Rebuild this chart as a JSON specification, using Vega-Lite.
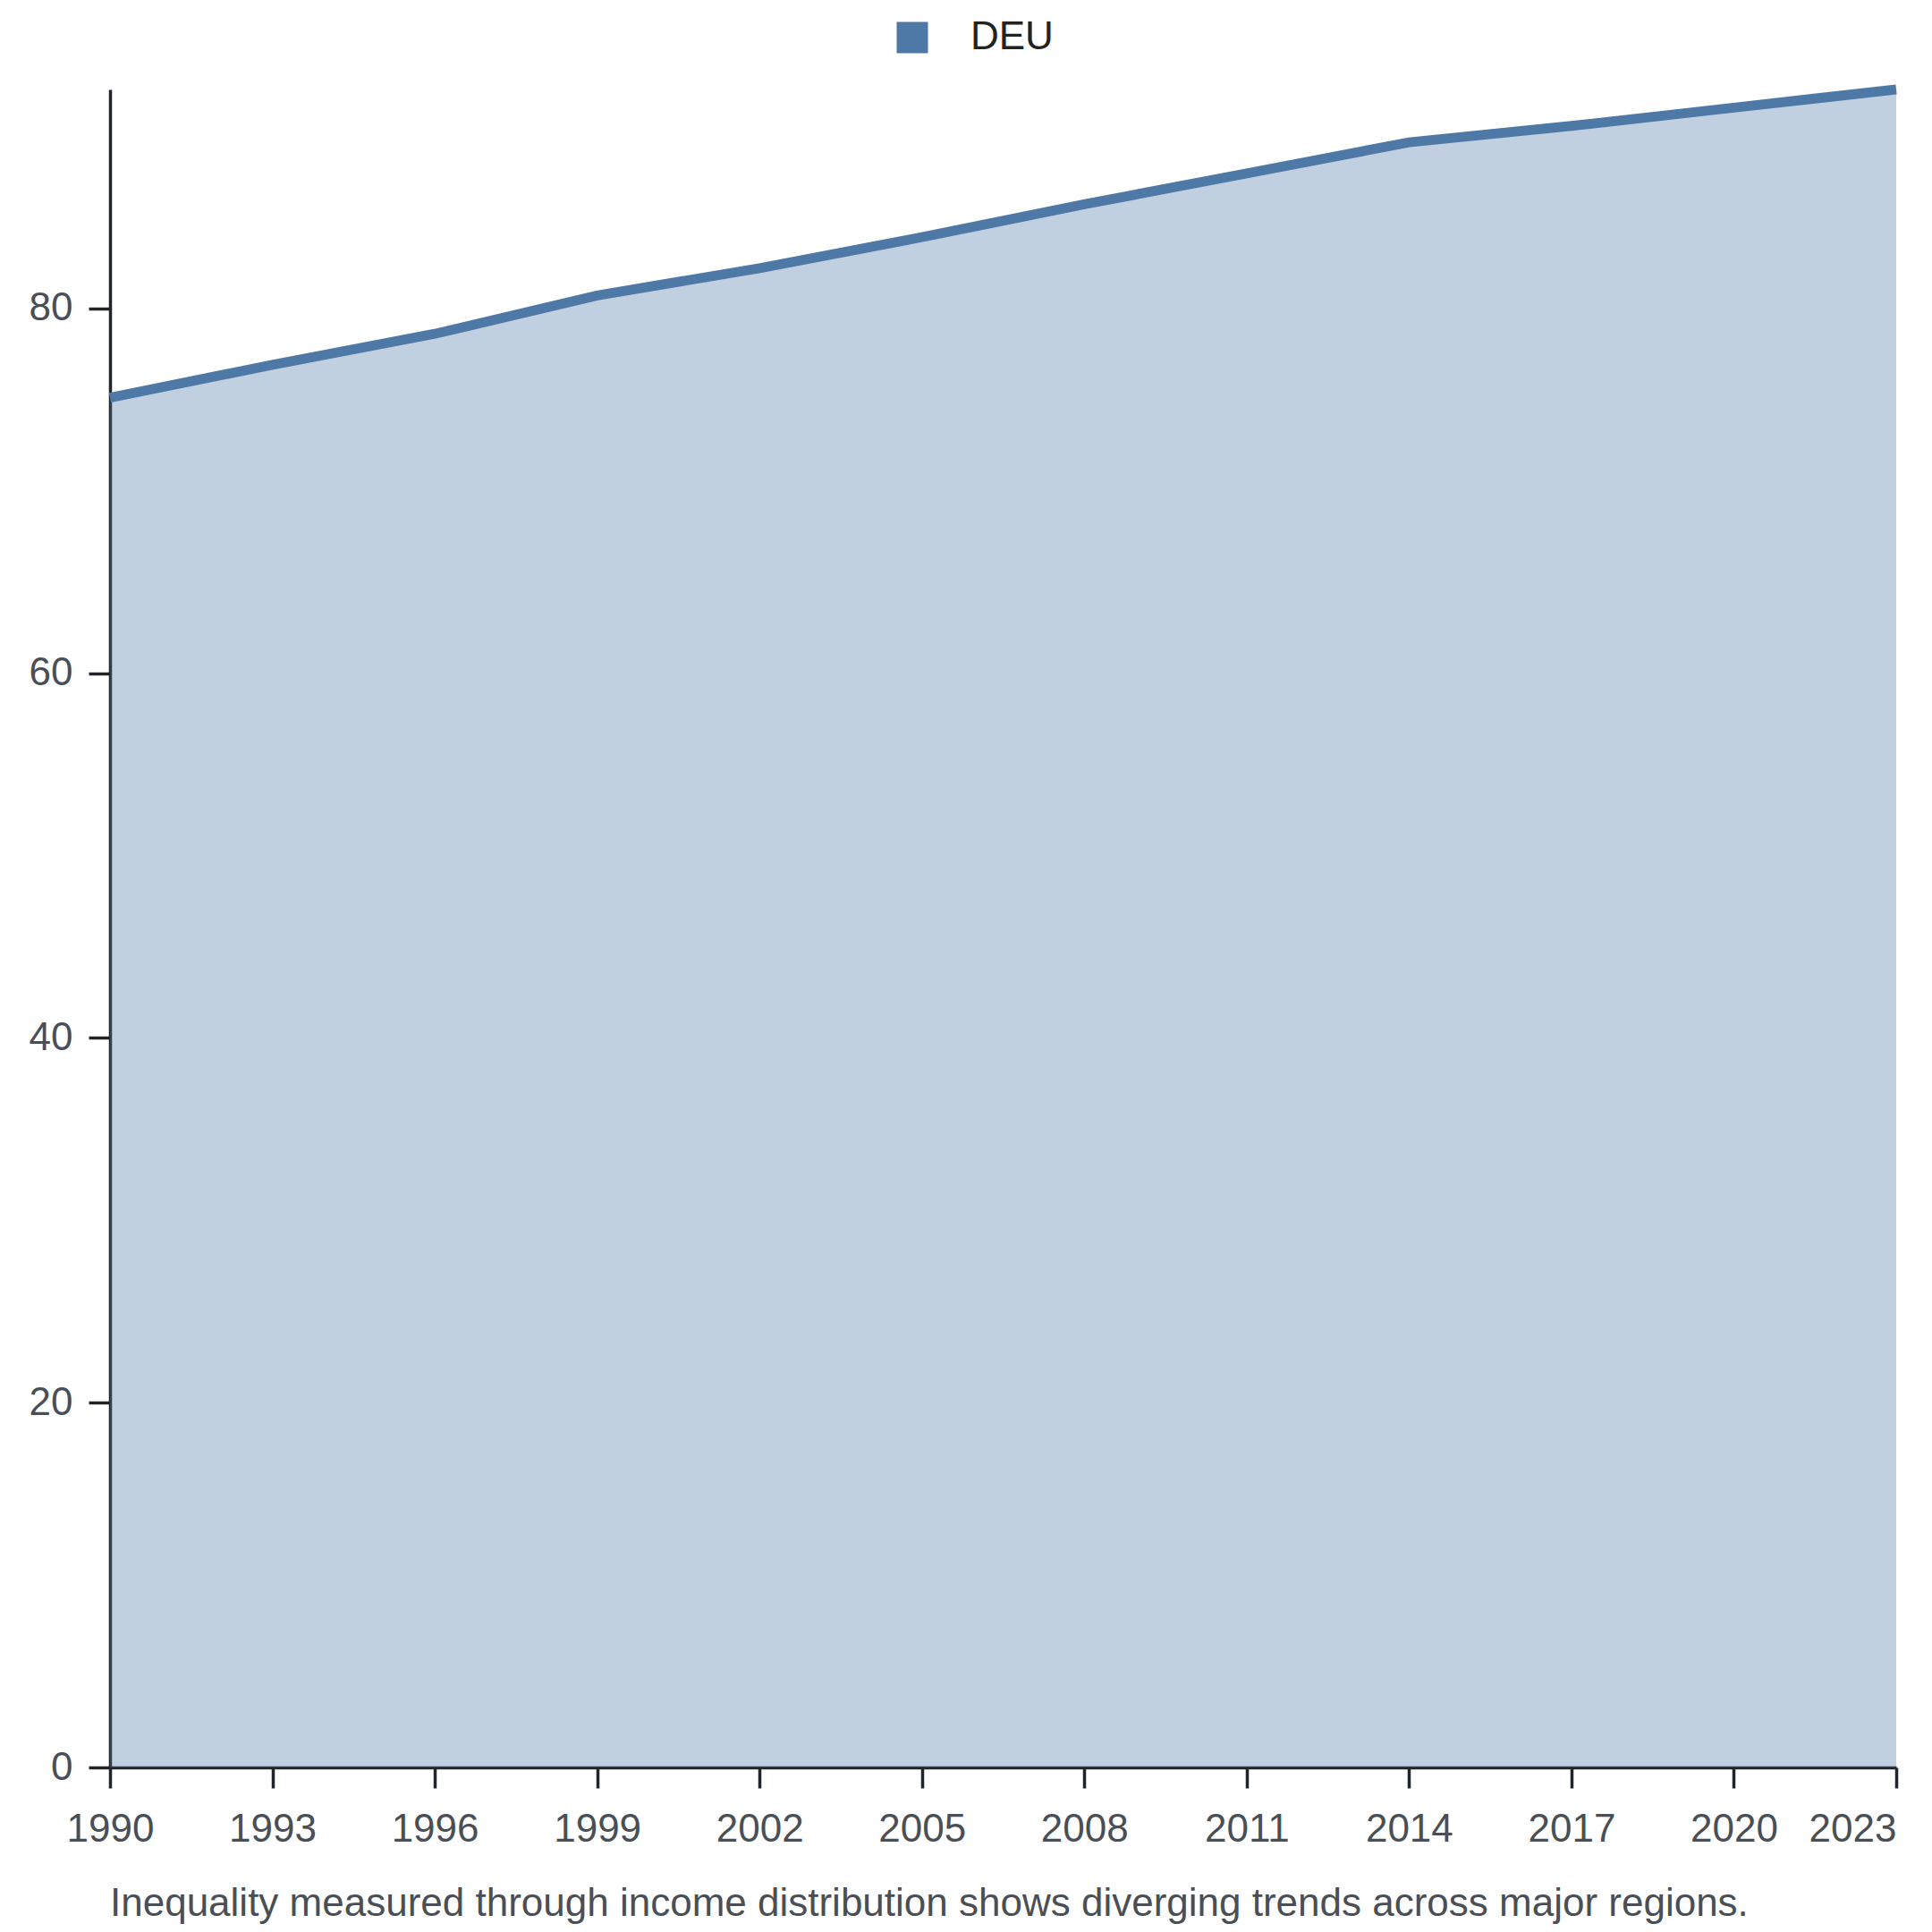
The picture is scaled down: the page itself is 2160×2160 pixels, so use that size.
{
  "$schema": "https://vega.github.io/schema/vega-lite/v6.json",
  "width": 1997,
  "height": 1876,
  "autosize": {"type": "none"},
  "padding": {"left": 123, "top": 100, "right": 40, "bottom": 184},
  "background": "white",
  "title": {
    "text": "Inequality measured through income distribution shows diverging trends across major regions.",
    "orient": "bottom",
    "anchor": "start",
    "frame": "group",
    "offset": 40,
    "font": "Liberation Sans",
    "fontSize": 44,
    "fontWeight": "normal",
    "color": "#4a4f55"
  },
  "data": {
    "values": [
      {"year": 1990, "country": "DEU", "value": 75.1},
      {"year": 1993, "country": "DEU", "value": 76.9},
      {"year": 1996, "country": "DEU", "value": 78.6},
      {"year": 1999, "country": "DEU", "value": 80.7},
      {"year": 2002, "country": "DEU", "value": 82.2},
      {"year": 2005, "country": "DEU", "value": 83.9},
      {"year": 2008, "country": "DEU", "value": 85.7},
      {"year": 2011, "country": "DEU", "value": 87.4},
      {"year": 2014, "country": "DEU", "value": 89.1},
      {"year": 2017, "country": "DEU", "value": 90.0},
      {"year": 2020, "country": "DEU", "value": 91.0},
      {"year": 2023, "country": "DEU", "value": 92.0}
    ]
  },
  "mark": {
    "type": "area",
    "fillOpacity": 0.35,
    "line": {"strokeWidth": 11}
  },
  "encoding": {
    "x": {
      "field": "year",
      "type": "quantitative",
      "scale": {"domain": [1990, 2023], "nice": false, "zero": false},
      "axis": {
        "title": null,
        "values": [1990, 1993, 1996, 1999, 2002, 2005, 2008, 2011, 2014, 2017, 2020, 2023],
        "format": "d",
        "grid": false,
        "labelAlign": {"condition": {"test": "datum.value == 2023", "value": "right"}, "value": "center"},
        "tickSize": 23,
        "labelPadding": 24
      }
    },
    "y": {
      "field": "value",
      "type": "quantitative",
      "scale": {"zero": true, "nice": false},
      "axis": {
        "title": null,
        "values": [0, 20, 40, 60, 80],
        "grid": false,
        "tickSize": 24,
        "labelPadding": 18
      }
    },
    "color": {
      "field": "country",
      "type": "nominal",
      "scale": {"range": ["#4e79a7"]},
      "legend": {
        "title": null,
        "orient": "none",
        "legendX": 875,
        "legendY": -80,
        "padding": 0,
        "symbolType": "square",
        "symbolSize": 1225,
        "symbolOpacity": 1,
        "symbolStrokeWidth": 0,
        "labelOffset": 43,
        "labelFont": "Liberation Sans",
        "labelFontSize": 44,
        "labelColor": "#222222"
      }
    }
  },
  "config": {
    "view": {"stroke": null},
    "axis": {
      "domainColor": "#212529",
      "domainWidth": 3.5,
      "tickColor": "#212529",
      "tickWidth": 3.5,
      "labelFont": "Liberation Sans",
      "labelFontSize": 44,
      "labelColor": "#4a4f55"
    }
  }
}
